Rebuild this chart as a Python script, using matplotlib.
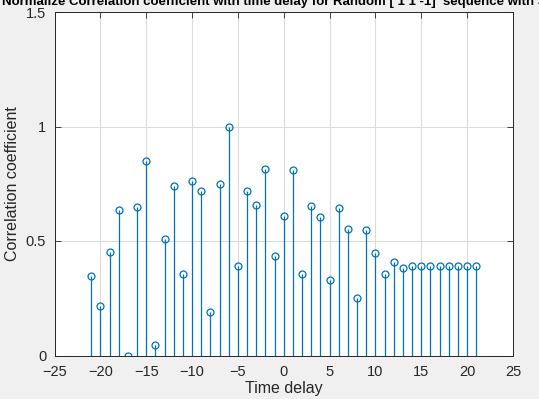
import numpy as np
import matplotlib.pyplot as plt

plt.rcParams['font.family'] = ['Liberation Sans', 'DejaVu Sans']

lags = np.arange(-21, 22)
corr = [0.345, 0.214, 0.45, 0.634, 0.0, 0.647, 0.848, 0.044, 0.507, 0.739,
        0.354, 0.761, 0.717, 0.19, 0.748, 1.0, 0.39, 0.717, 0.656, 0.813,
        0.433, 0.608, 0.809, 0.354, 0.651, 0.603, 0.328, 0.643, 0.551, 0.249,
        0.547, 0.449, 0.356, 0.407, 0.38, 0.389, 0.389, 0.389, 0.389, 0.389,
        0.389, 0.389, 0.389]

title = "Normalize Correlation coefficient with time delay for Random [ 1 1 -1]  sequence with SNR"

fig = plt.figure(figsize=(5.39, 3.99), dpi=100, facecolor='#f0f0f0')
ax = fig.add_axes([54.5/539, 1 - 355.5/399, (513 - 54.5)/539, (355.5 - 12)/399])

blue = '#0072BD'
markerline, stemlines, baseline = ax.stem(lags, corr, basefmt=' ')
plt.setp(stemlines, color=blue, linewidth=0.9)
plt.setp(markerline, marker='o', markersize=5, markerfacecolor='none',
         markeredgecolor=blue, markeredgewidth=0.9)

ax.set_xlim(-25, 25)
ax.set_ylim(0, 1.5)
ax.set_xticks(np.arange(-25, 26, 5))
ax.set_yticks([0, 0.5, 1, 1.5])
ax.set_yticklabels(['0', '0.5', '1', '1.5'])
ax.grid(True, color='#dcdcdc', linewidth=0.8)
ax.set_axisbelow(True)
ax.tick_params(direction='in', top=True, right=True, labelsize=10.5,
               colors='#262626', length=4, width=0.6)
ax.tick_params(axis='x', pad=7)
ax.tick_params(axis='y', pad=6)
for s in ax.spines.values():
    s.set_color('#262626')
    s.set_linewidth(0.7)

ax.set_xlabel('Time delay', fontsize=11.5, color='#262626', labelpad=1)
ax.set_ylabel('Correlation coefficient', fontsize=11.5, color='#262626', labelpad=4)
ax.set_title(title, fontsize=9.5, fontweight='bold', pad=5)

fig.savefig('out.png', dpi=100, facecolor=fig.get_facecolor())
